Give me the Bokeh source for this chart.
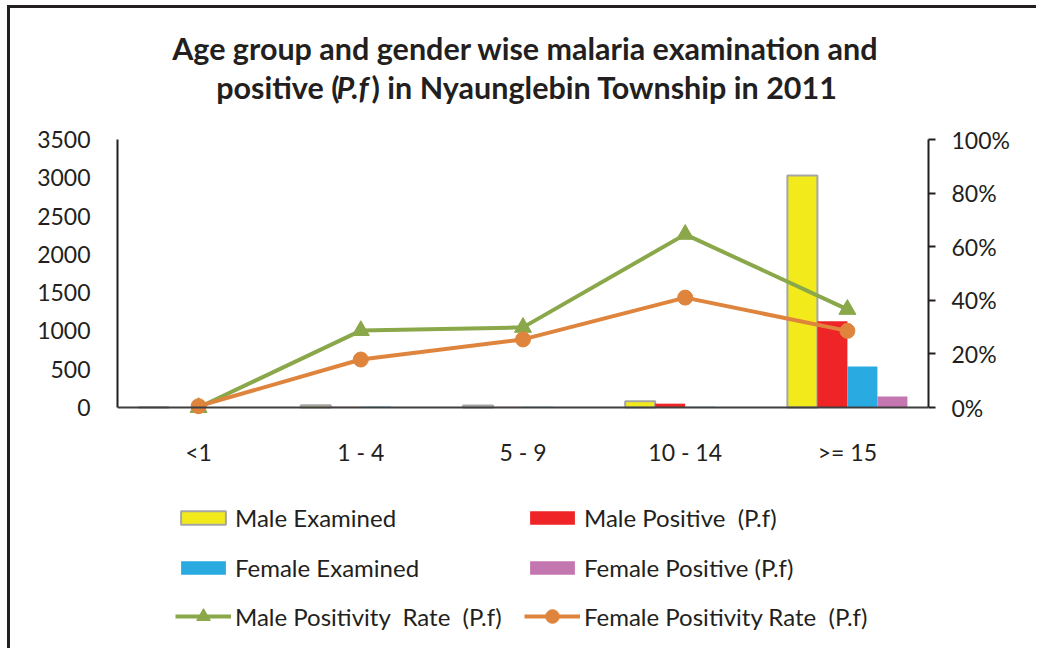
from bokeh.plotting import figure
from bokeh.models import (ColumnDataSource, FactorRange, Range1d, LinearAxis, Label,
                          Legend, LegendItem, NumeralTickFormatter, FixedTicker)
from bokeh.transform import dodge
from bokeh.embed import file_html
from bokeh.resources import INLINE

categories = ["<1", "1 - 4", "5 - 9", "10 - 14", ">= 15"]
male_examined = [3, 30, 25, 80, 3030]
male_positive = [0, 9, 8, 50, 1125]
female_examined = [5, 12, 10, 10, 535]
female_positive = [0, 2, 3, 4, 145]
male_rate = [0.0, 0.287, 0.299, 0.646, 0.366]
female_rate = [0.005, 0.179, 0.254, 0.41, 0.286]
left_ticks = [0, 500, 1000, 1500, 2000, 2500, 3000, 3500]
right_ticks = [0, 0.2, 0.4, 0.6, 0.8, 1.0]
title_line1 = "Age group and gender wise malaria examination and"
title_line2 = ["positive (", "P.f", ") in Nyaunglebin Township in 2011"]

src = ColumnDataSource(dict(cat=categories, me=male_examined, mp=male_positive,
                            fe=female_examined, fp=female_positive,
                            mr=male_rate, fr=female_rate))

FONT = "Lato"
TXT = "#231f20"

# layout in page pixels
FR_L, FR_R, FR_T, FR_B = 117, 928, 12, 648   # frame edges
Y0, Y_TOP = 407, 139                          # pixel rows of 0 and 3500
PX = 3500 / (Y0 - Y_TOP)                      # data units per pixel
CATW = (FR_R - FR_L) / len(categories)

def xs(px):  # page x -> synthetic categorical coordinate
    return (px - FR_L) / CATW

def ys(py):  # page y -> left-axis data value
    return (Y0 - py) * PX

CW, CH = 1029, 643
OX, OY = 10, 8
p = figure(width=CW, height=CH, x_range=FactorRange(*categories, range_padding=0),
           y_range=Range1d(ys(FR_B), ys(FR_T)), output_backend="svg",
           toolbar_location=None,
           min_border_left=FR_L - OX, min_border_top=FR_T - OY,
           min_border_right=CW - (FR_R - OX), min_border_bottom=CH - (FR_B - OY))
p.styles = {"border-top": "3px solid #231f20", "border-left": "3px solid #231f20",
            "margin-top": "5px", "margin-left": "7px"}
p.outline_line_color = None
p.xgrid.visible = False
p.ygrid.visible = False
p.extra_y_ranges = {"pct": Range1d(ys(FR_B) / 3500, ys(FR_T) / 3500)}

W = 0.185
r_me = p.vbar(x=dodge("cat", -0.2775, range=p.x_range), top="me", width=W, source=src,
              fill_color="#f3ea1b", line_color="#a6a6a6", line_width=2)
r_mp = p.vbar(x=dodge("cat", -0.0925, range=p.x_range), top="mp", width=W, source=src,
              fill_color="#ee2426", line_color=None)
r_fe = p.vbar(x=dodge("cat", 0.0925, range=p.x_range), top="fe", width=W, source=src,
              fill_color="#29abe2", line_color=None)
r_fp = p.vbar(x=dodge("cat", 0.2775, range=p.x_range), top="fp", width=W, source=src,
              fill_color="#c476b0", line_color=None)

GREEN = "#8aa84a"
ORANGE = "#df843c"
l_m = p.line("cat", "mr", source=src, y_range_name="pct", line_color=GREEN, line_width=4)
s_m = p.scatter("cat", "mr", source=src, y_range_name="pct", marker="triangle", size=17,
                fill_color=GREEN, line_color=GREEN)
l_f = p.line("cat", "fr", source=src, y_range_name="pct", line_color=ORANGE, line_width=4)
s_f = p.scatter("cat", "fr", source=src, y_range_name="pct", marker="circle", size=15,
                fill_color=ORANGE, line_color=ORANGE)

# axes
ax = p.xaxis[0]
ax.fixed_location = 0
ax.axis_line_color = "#3f3f3f"
ax.axis_line_width = 2
ax.major_tick_line_color = None
ax.minor_tick_line_color = None
ax.major_label_text_font = FONT
ax.major_label_text_font_size = "23px"
ax.major_label_text_color = TXT
ax.major_label_standoff = 24

ay = p.yaxis[0]
ay.ticker = FixedTicker(ticks=left_ticks)
ay.bounds = (0, 3500)
ay.axis_line_color = "#231f20"
ay.axis_line_width = 2
ay.major_tick_line_color = None
ay.minor_tick_line_color = None
ay.major_label_text_font = FONT
ay.major_label_text_font_size = "23px"
ay.major_label_text_color = TXT
ay.major_label_standoff = 21

ry = LinearAxis(y_range_name="pct", ticker=FixedTicker(ticks=right_ticks),
                formatter=NumeralTickFormatter(format="0%"), bounds=(0, 1))
ry.axis_line_color = "#231f20"
ry.axis_line_width = 2
ry.major_tick_line_color = "#231f20"
ry.major_tick_line_width = 2
ry.major_tick_out = 7
ry.major_tick_in = 0
ry.minor_tick_line_color = None
ry.major_label_text_font = FONT
ry.major_label_text_font_size = "23px"
ry.major_label_text_color = TXT
ry.major_label_standoff = 16
p.add_layout(ry, "right")

# title
TS = "30.5px"
p.add_layout(Label(x=xs(525), y=ys(47), text=title_line1, text_align="center",
                   text_baseline="middle", text_font=FONT, text_font_style="bold",
                   text_font_size=TS, text_color=TXT))
p.add_layout(Label(x=xs(339), y=ys(86), text=title_line2[0], text_align="right",
                   text_baseline="middle", text_font=FONT, text_font_style="bold",
                   text_font_size=TS, text_color=TXT))
p.add_layout(Label(x=xs(336), y=ys(86), text=title_line2[1], text_align="left",
                   text_baseline="middle", text_font=FONT, text_font_style="bold italic",
                   text_font_size=TS, text_color=TXT))
p.add_layout(Label(x=xs(371), y=ys(86), text=title_line2[2], text_align="left",
                   text_baseline="middle", text_font=FONT, text_font_style="bold",
                   text_font_size=TS, text_color=TXT))


def style_legend(lg, gh):
    lg.label_text_font = FONT
    lg.label_text_font_size = "24px"
    lg.label_text_color = TXT
    lg.glyph_width = 56
    lg.glyph_height = gh
    lg.label_height = 28
    lg.label_width = 268
    lg.label_standoff = 4
    lg.spacing = 21
    lg.padding = 0
    lg.margin = 0
    lg.border_line_color = None
    lg.background_fill_alpha = 0


legend_bars = Legend(items=[
    LegendItem(label="Male Examined", renderers=[r_me]),
    LegendItem(label="Male Positive  (P.f)", renderers=[r_mp]),
    LegendItem(label="Female Examined", renderers=[r_fe]),
    LegendItem(label="Female Positive (P.f)", renderers=[r_fp]),
], location=(175 - FR_L, FR_B - 582), orientation="horizontal", ncols=2)
style_legend(legend_bars, 17)
p.add_layout(legend_bars, "center")

legend_lines = Legend(items=[
    LegendItem(label="Male Positivity  Rate  (P.f)", renderers=[l_m, s_m]),
    LegendItem(label="Female Positivity Rate  (P.f)", renderers=[l_f, s_f]),
], location=(175 - FR_L, FR_B - 633), orientation="horizontal", ncols=2)
style_legend(legend_lines, 34)
p.add_layout(legend_lines, "center")

open("out.html", "w").write(file_html(p, INLINE))
